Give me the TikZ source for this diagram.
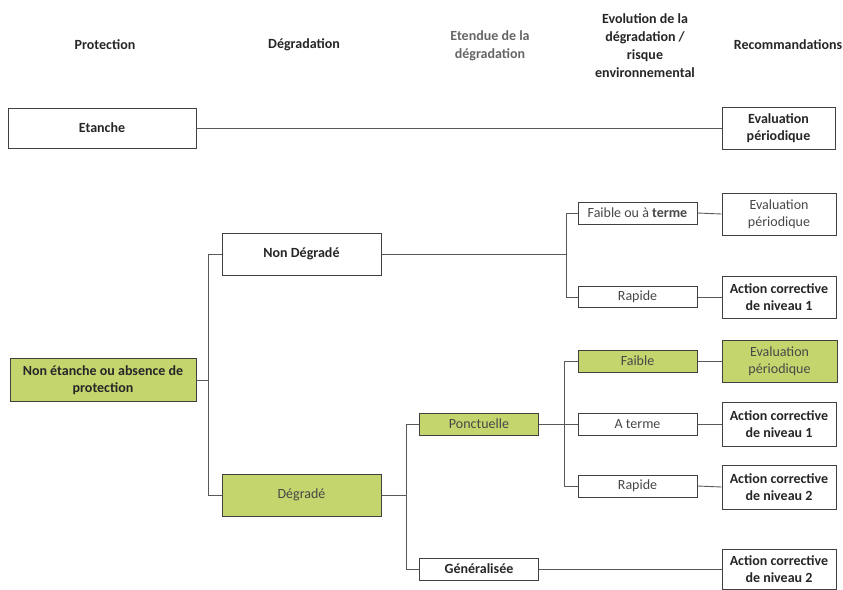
\documentclass[tikz,border=0pt]{standalone}
\usepackage{fontspec}
\setmainfont{Carlito}
\definecolor{boxgreen}{RGB}{196,213,110}
\begin{document}
\begin{tikzpicture}[x=1pt,y=-1pt,
  box/.style={draw=black!75, line width=1pt, fill=white, inner sep=0pt, align=center,
    font=\fontsize{14}{17}\selectfont\bfseries, text=black!85},
  grn/.style={fill=boxgreen},
  light/.style={font=\fontsize{14}{17}\selectfont, text=black!72},
  hdr/.style={align=center, font=\fontsize{14}{18}\selectfont\bfseries, text=black!85},
  link/.style={draw=black!65, line width=0.9pt}]
\fill[white] (0,0) rectangle (843,589);
\useasboundingbox (0,0) rectangle (843,589);

% headers
\node[hdr] (h1) at (105,45) {Protection};
\node[hdr] (h2) at (304,45) {Dégradation};
\node[hdr, text=black!60] (h3) at (490,46) {Etendue de la\\dégradation};
\node[hdr] (h4) at (645,46) {Evolution de la\\dégradation /\\risque\\environnemental};
\node[hdr] (h5) at (788,45) {Recommandations};

% column 1
\node[box, minimum width=188pt, minimum height=40pt] (etanche) at (102,128) {Etanche};
\node[box, grn, minimum width=186pt, minimum height=43pt] (nonet) at (103,380) {Non étanche ou absence de\\protection};

% column 2
\node[box, minimum width=159pt, minimum height=42pt] (nondeg) at (301.5,254) {Non Dégradé};
\node[box, grn, minimum width=159pt, minimum height=42pt, light] (degrade) at (301.5,495) {Dégradé};

% column 3
\node[box, grn, minimum width=119pt, minimum height=22pt, light] (ponct) at (479,424) {Ponctuelle};
\node[box, minimum width=119pt, minimum height=22pt] (gen) at (479,569) {Généralisée};

% column 4
\node[box, minimum width=119pt, minimum height=22pt, light] (fterme) at (637.5,213) {Faible ou à \textbf{terme}};
\node[box, minimum width=119pt, minimum height=21pt, light] (rap1) at (637.5,297) {Rapide};
\node[box, grn, minimum width=119pt, minimum height=22pt, light] (faible) at (637.5,361) {Faible};
\node[box, minimum width=119pt, minimum height=22pt, light] (aterme) at (637.5,424) {A terme};
\node[box, minimum width=119pt, minimum height=22pt, light] (rap2) at (637.5,486) {Rapide};

% column 5
\node[box, minimum width=113pt, minimum height=42pt] (evA) at (778.5,128) {Evaluation\\périodique};
\node[box, minimum width=114pt, minimum height=42pt, light] (evB) at (779,214) {Evaluation\\périodique};
\node[box, minimum width=114pt, minimum height=42pt] (ac1a) at (779,297) {Action corrective\\de niveau 1};
\node[box, grn, minimum width=115pt, minimum height=42pt, light] (evC) at (779.5,361) {Evaluation\\périodique};
\node[box, minimum width=114pt, minimum height=44pt] (ac1b) at (779,424) {Action corrective\\de niveau 1};
\node[box, minimum width=114pt, minimum height=44pt] (ac2a) at (779,487) {Action corrective\\de niveau 2};
\node[box, minimum width=114pt, minimum height=40pt] (ac2b) at (779,569) {Action corrective\\de niveau 2};

% bus coordinates
\coordinate (b1) at (208,0);
\coordinate (b2) at (566,0);
\coordinate (b3) at (406,0);
\coordinate (b4) at (564,0);

% connectors
\draw[link] (etanche.east) -- (evA.west);

\draw[link] (nonet.east) -- (nonet.east -| b1);
\draw[link] (nondeg.west) -| (b1 |- degrade.west) -- (degrade.west);

\draw[link] (nondeg.east) -- (nondeg.east -| b2);
\draw[link] (fterme.west) -| (b2 |- rap1.west) -- (rap1.west);
\draw[link] (fterme.east) -- (evB.west);
\draw[link] (rap1.east) -- (ac1a.west);

\draw[link] (degrade.east) -- (degrade.east -| b3);
\draw[link] (ponct.west) -| (b3 |- gen.west) -- (gen.west);

\draw[link] (ponct.east) -- (aterme.west);
\draw[link] (faible.west) -| (b4 |- rap2.west) -- (rap2.west);
\draw[link] (faible.east) -- (evC.west);
\draw[link] (aterme.east) -- (ac1b.west);
\draw[link] (rap2.east) -- (ac2a.west);
\draw[link] (gen.east) -- (ac2b.west);
\end{tikzpicture}
\end{document}
